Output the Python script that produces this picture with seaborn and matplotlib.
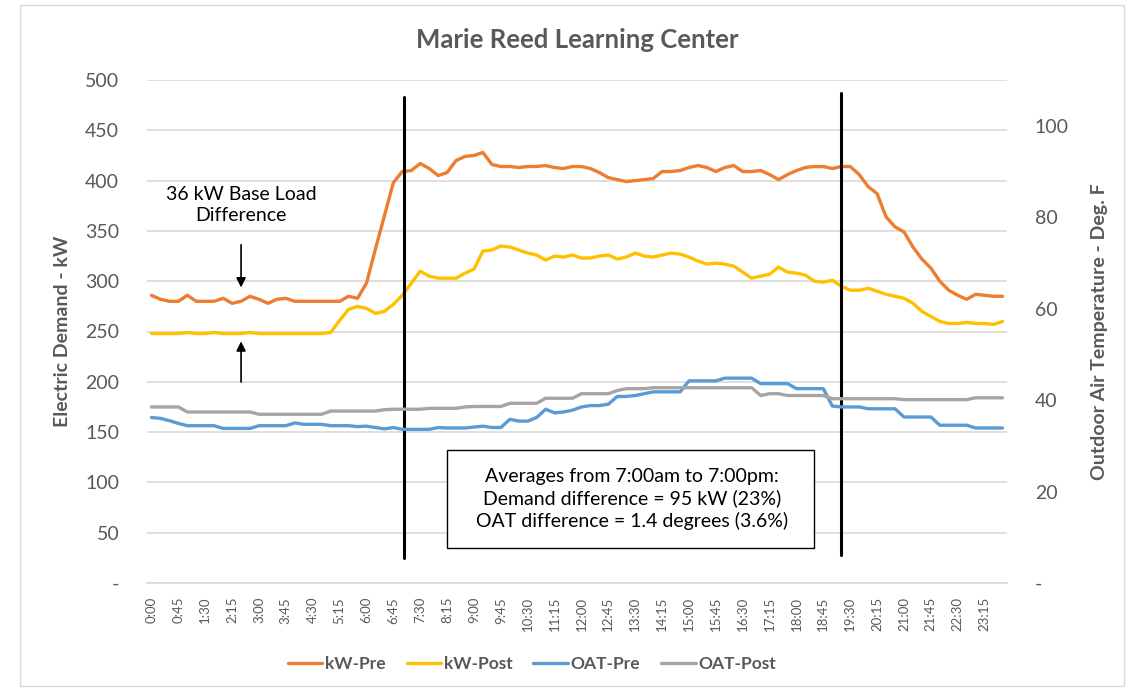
import numpy as np
import pandas as pd
import matplotlib
matplotlib.use("Agg")
import matplotlib.pyplot as plt
import seaborn as sns
from matplotlib.patches import Rectangle

# 15-minute intervals over one day
times = [f"{h}:{m:02d}" for h in range(24) for m in (0, 15, 30, 45)]

kw_pre = [286, 282, 280, 280, 286, 280, 280, 280, 283, 278, 280, 285,
          282, 278, 282, 283, 280, 280, 280, 280, 280, 280, 285, 283,
          298, 332, 365, 398, 409, 410, 417, 412, 405, 408, 420, 424,
          425, 428, 416, 414, 414, 413, 414, 414, 415, 413, 412, 414,
          414, 412, 408, 403, 401, 399, 400, 401, 402, 409, 409, 410,
          413, 415, 413, 409, 413, 415, 409, 409, 410, 406, 401, 406,
          410, 413, 414, 414, 412, 414, 414, 406, 394, 387, 364, 354,
          349, 334, 322, 313, 300, 291, 286, 282, 287, 286, 285, 285]

kw_post = [248, 248, 248, 248, 249, 248, 248, 249, 248, 248, 248, 249,
           248, 248, 248, 248, 248, 248, 248, 248, 249, 261, 272, 275,
           273, 268, 270, 277, 286, 298, 310, 305, 303, 303, 303, 308,
           312, 330, 331, 335, 334, 331, 328, 326, 321, 325, 324, 326,
           323, 323, 325, 326, 322, 324, 328, 325, 324, 326, 328, 327,
           324, 320, 317, 318, 317, 315, 309, 303, 305, 307, 314, 309,
           308, 306, 300, 299, 301, 295, 291, 291, 293, 290, 287, 285,
           283, 278, 270, 265, 260, 258, 258, 259, 258, 258, 257, 260]

oat_pre = [36.2, 36.0, 35.5, 34.9, 34.4, 34.4, 34.4, 34.4, 33.8, 33.8, 33.8, 33.8,
           34.4, 34.4, 34.4, 34.4, 35.0, 34.7, 34.7, 34.7, 34.4, 34.4, 34.4, 34.2,
           34.3, 34.0, 33.7, 34.0, 33.6, 33.6, 33.6, 33.6, 34.0, 33.9, 33.9, 33.9,
           34.1, 34.3, 34.0, 34.0, 35.8, 35.4, 35.4, 36.2, 38.0, 37.2, 37.4, 37.8,
           38.5, 38.8, 38.8, 39.1, 40.8, 40.8, 41.0, 41.4, 41.8, 41.8, 41.8, 41.8,
           44.2, 44.2, 44.2, 44.2, 44.8, 44.8, 44.8, 44.8, 43.6, 43.6, 43.6, 43.6,
           42.5, 42.5, 42.5, 42.5, 38.7, 38.5, 38.5, 38.5, 38.1, 38.1, 38.1, 38.1,
           36.3, 36.3, 36.3, 36.3, 34.5, 34.5, 34.5, 34.5, 33.9, 33.9, 33.9, 33.9]

oat_post = [38.5, 38.5, 38.5, 38.5, 37.4, 37.4, 37.4, 37.4, 37.4, 37.4, 37.4, 37.4,
            36.9, 36.9, 36.9, 36.9, 36.9, 36.9, 36.9, 36.9, 37.6, 37.6, 37.6, 37.6,
            37.6, 37.6, 37.9, 38.0, 38.0, 38.0, 38.0, 38.2, 38.2, 38.2, 38.2, 38.5,
            38.6, 38.6, 38.6, 38.6, 39.3, 39.3, 39.3, 39.3, 40.4, 40.4, 40.4, 40.4,
            41.4, 41.4, 41.4, 41.4, 42.1, 42.5, 42.5, 42.5, 42.7, 42.7, 42.7, 42.7,
            42.7, 42.7, 42.7, 42.7, 42.7, 42.7, 42.7, 42.7, 41.0, 41.4, 41.4, 41.0,
            41.0, 41.0, 41.0, 41.0, 40.3, 40.3, 40.3, 40.3, 40.3, 40.3, 40.3, 40.3,
            40.1, 40.1, 40.1, 40.1, 40.1, 40.1, 40.1, 40.1, 40.5, 40.5, 40.5, 40.5]

kw_ticks = [0, 50, 100, 150, 200, 250, 300, 350, 400, 450, 500]
oat_ticks = [0, 20, 40, 60, 80, 100]

df = pd.DataFrame({"idx": np.arange(len(times)), "time": times,
                   "kW-Pre": kw_pre, "kW-Post": kw_post,
                   "OAT-Pre": oat_pre, "OAT-Post": oat_post})

sns.set_style("white")
plt.rcParams['font.family'] = ['Lato', 'DejaVu Sans']

txt = "#595959"
colors = {"kW-Pre": "#ED7D31", "kW-Post": "#FFC000",
          "OAT-Pre": "#5B9BD5", "OAT-Post": "#A5A5A5"}

fig = plt.figure(figsize=(11.34, 6.91), dpi=100)
ax = fig.add_axes([147/1134, 1 - 583/691, 860/1134, 503/691])
ax2 = ax.twinx()

for name in ["kW-Pre", "kW-Post"]:
    sns.lineplot(data=df, x="idx", y=name, ax=ax, color=colors[name],
                 linewidth=2.4, label=name, legend=False)
for name in ["OAT-Pre", "OAT-Post"]:
    sns.lineplot(data=df, x="idx", y=name, ax=ax2, color=colors[name],
                 linewidth=2.4, label=name, legend=False)

ax.set_xlim(-0.5, len(times) - 0.5)
ax.set_ylim(0, 500)
ax2.set_ylim(0, 110)

ax.set_yticks(kw_ticks)
ax.set_yticklabels(["-"] + [str(v) for v in kw_ticks[1:]])
ax2.set_yticks(oat_ticks)
ax2.set_yticklabels(["-"] + [str(v) for v in oat_ticks[1:]])

ax.set_xticks(df["idx"][::3])
ax.set_xticklabels(df["time"][::3], rotation=90, fontsize=9.5, color=txt)
ax.tick_params(axis="x", length=0, pad=10)
ax.tick_params(axis="y", length=0, pad=20, labelsize=14, labelcolor=txt)
ax2.tick_params(axis="y", length=0, pad=20, labelsize=14, labelcolor=txt)

ax.grid(axis="y", color="#D9D9D9", linewidth=1.2)
ax.set_axisbelow(True)
for a in (ax, ax2):
    for s in a.spines.values():
        s.set_visible(False)
ax.spines["bottom"].set_visible(True)
ax.spines["bottom"].set_color("#D9D9D9")
ax.spines["bottom"].set_linewidth(1.2)

ax.set_xlabel("")
ax.set_ylabel("Electric Demand - kW", fontsize=14, fontweight="bold", color=txt, labelpad=10)
ax2.set_ylabel("Outdoor Air Temperature - Deg. F", fontsize=14, fontweight="bold",
               color=txt, labelpad=16)

fig.text(577/1134, 1 - 40/691, "Marie Reed Learning Center", ha="center", va="center",
         fontsize=18.5, fontweight="bold", color=txt)

# period markers 7:00am and 7:15pm
ax.plot([28.2, 28.2], [25, 483], color="black", linewidth=2.2)
ax.plot([77.0, 77.0], [28, 487], color="black", linewidth=2.2)

# base load annotation
ax.text(10.0, 376, "36 kW Base Load\nDifference", ha="center", va="center",
        fontsize=14, color="black", linespacing=1.3)
ax.annotate("", xy=(10.0, 291), xytext=(10.0, 339),
            arrowprops=dict(arrowstyle="-|>", color="black", lw=1.2, mutation_scale=14))
ax.annotate("", xy=(10.0, 243), xytext=(10.0, 197),
            arrowprops=dict(arrowstyle="-|>", color="black", lw=1.2, mutation_scale=14))

ax.add_patch(Rectangle((33.0, 34.8), 41.0, 97.4, facecolor="white",
                       edgecolor="black", linewidth=1.0, zorder=5))
ax.text(53.6, 83.5, "Averages from 7:00am to 7:00pm:\nDemand difference = 95 kW (23%)\n"
        "OAT difference = 1.4 degrees (3.6%)", ha="center", va="center",
        fontsize=14, color="black", linespacing=1.3, zorder=6)

h1, l1 = ax.get_legend_handles_labels()
h2, l2 = ax2.get_legend_handles_labels()
leg = fig.legend(h1 + h2, l1 + l2, loc="center", bbox_to_anchor=(532/1134, 1 - 664/691),
                 ncol=4, frameon=False, fontsize=12.5, handlelength=2.0,
                 handletextpad=0.15, columnspacing=1.2)
for t in leg.get_texts():
    t.set_fontweight("bold")
    t.set_color(txt)

fig.add_artist(Rectangle((20/1134, 5/691), 1104/1134, 681/691, transform=fig.transFigure,
                         fill=False, edgecolor="#D9D9D9", linewidth=1.0))

fig.savefig("out.png", dpi=100)
